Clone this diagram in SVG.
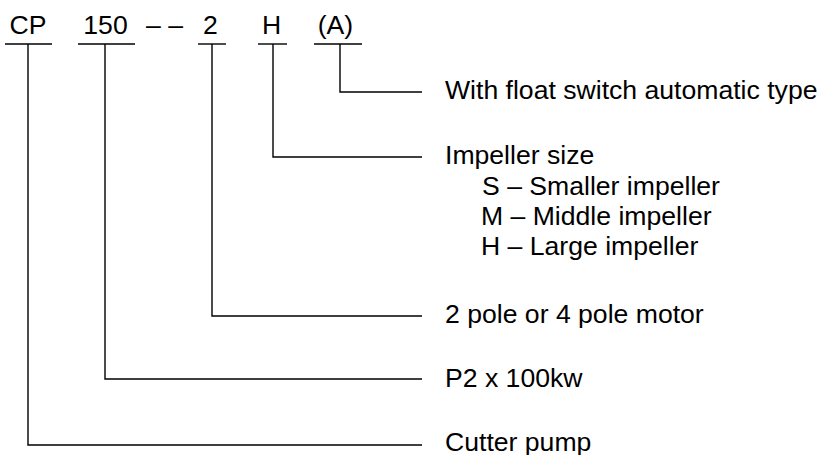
<svg xmlns="http://www.w3.org/2000/svg" width="821" height="455" viewBox="0 0 821 455">
<style>
text{font-family:"Liberation Sans",Arial,sans-serif;font-size:26.6px;fill:#000}
.code{text-anchor:middle}
.ln{fill:none;stroke:#000;stroke-width:1.4}
</style>
<rect width="821" height="455" fill="#fff"/>
<g id="code-row">
<g id="n-cp"><text class="code" x="28" y="34">CP</text><line class="ln" x1="5" y1="44" x2="52" y2="44"/></g>
<g id="n-150"><text class="code" x="105.5" y="34">150</text><line class="ln" x1="78" y1="44" x2="135" y2="44"/></g>
<g id="n-dash"><text x="146" y="34">– –</text></g>
<g id="n-2"><text class="code" x="210.5" y="34">2</text><line class="ln" x1="198" y1="44" x2="226" y2="44"/></g>
<g id="n-h"><text class="code" x="271.5" y="34">H</text><line class="ln" x1="258" y1="44" x2="287" y2="44"/></g>
<g id="n-a"><text class="code" x="335.5" y="34">(A)</text><line class="ln" x1="314" y1="44" x2="362" y2="44"/></g>
</g>
<g id="connectors">
<polyline class="ln" points="340,44 340,92 422,92"/>
<polyline class="ln" points="273,44 273,157 422,157"/>
<polyline class="ln" points="212,44 212,316 422,316"/>
<polyline class="ln" points="105,44 105,379 422,379"/>
<polyline class="ln" points="28,44 28,445 422,445"/>
</g>
<g id="l-float"><text x="445" y="99">With float switch automatic type</text></g>
<g id="l-impeller">
<text x="445" y="164">Impeller size</text>
<text x="482" y="195">S – Smaller impeller</text>
<text x="481" y="225">M – Middle impeller</text>
<text x="481" y="255">H – Large impeller</text>
</g>
<g id="l-pole"><text x="445" y="323">2 pole or 4 pole motor</text></g>
<g id="l-power"><text x="445" y="387">P2 x 100kw</text></g>
<g id="l-cutter"><text x="445" y="451">Cutter pump</text></g>
</svg>
